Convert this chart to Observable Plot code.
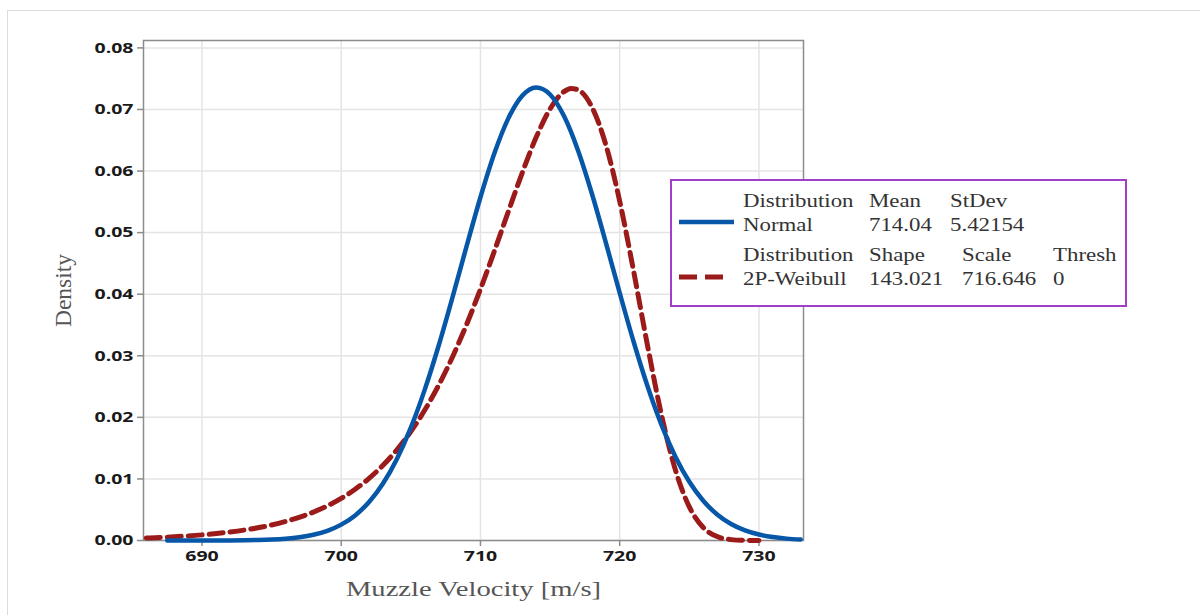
<!DOCTYPE html>
<html>
<head>
<meta charset="utf-8">
<script src="https://cdn.jsdelivr.net/npm/d3@7"></script>
<script src="https://cdn.jsdelivr.net/npm/@observablehq/plot@0.6"></script>
<style>
  html, body { margin: 0; padding: 0; background: #fff; overflow: hidden; }
  #wrap { position: relative; width: 1200px; height: 615px; }
  #outer { position: absolute; left: 7px; top: 10px; width: 1210px; height: 620px; border: 1.5px solid #dcdcdc; box-sizing: border-box; }
  #chart { position: absolute; left: 0; top: 0; }
  #legend { position: absolute; left: 670px; top: 179px; width: 457px; height: 128px; border: 2px solid #a040c8; box-sizing: border-box; background: #fff; font-family: "Liberation Serif", "DejaVu Serif", serif; font-size: 18px; color: #333; }
  #legend span { position: absolute; white-space: nowrap; line-height: 1; transform-origin: 0 0; transform: scaleX(1.27); }
  #legend svg { position: absolute; left: 0; top: 0; }
</style>
</head>
<body>
<div id="wrap">
  <div id="outer"></div>
  <div id="chart"></div>
  <div id="legend"></div>
</div>
<script>
// ---- data ----
const xTicks = [690, 700, 710, 720, 730];
const yTicks = [0, 0.01, 0.02, 0.03, 0.04, 0.05, 0.06, 0.07, 0.08];
const xLabel = "Muzzle Velocity [m/s]";
const yLabel = "Density";

const normalX = [687.5, 688, 690, 692, 694, 695, 696, 697, 698, 699, 700, 701, 702, 703, 704, 705, 706, 707, 708, 709, 710, 711, 712, 713, 714, 715, 716, 717, 718, 719, 720, 721, 722, 723, 724, 725, 726, 727, 728, 729, 730, 731, 732, 733];
const normalY = [0, 0.000001, 0.000004, 0.000019, 0.000079, 0.000154, 0.00029, 0.000527, 0.000924, 0.001569, 0.002573, 0.004079, 0.006249, 0.009254, 0.013247, 0.018327, 0.024502, 0.031666, 0.039557, 0.047765, 0.055742, 0.062876, 0.068551, 0.072239, 0.07358, 0.072436, 0.068925, 0.063391, 0.056352, 0.04842, 0.040208, 0.032277, 0.025041, 0.018778, 0.013611, 0.009535, 0.006456, 0.004225, 0.002673, 0.001635, 0.000966, 0.000552, 0.000305, 0.000163];

const weibullX = [686, 688, 690, 692, 694, 696, 698, 699, 700, 701, 702, 703, 704, 705, 706, 707, 708, 709, 710, 711, 712, 713, 714, 715, 716, 716.5, 717, 718, 719, 720, 721, 722, 723, 724, 725, 726, 727, 728, 729, 730];
const weibullY = [0.000402, 0.000607, 0.000915, 0.001376, 0.002066, 0.003093, 0.004614, 0.005624, 0.006845, 0.00832, 0.01009, 0.012207, 0.014722, 0.017693, 0.021179, 0.02522, 0.029852, 0.035064, 0.040819, 0.047004, 0.053411, 0.059714, 0.065474, 0.07009, 0.072903, 0.073406, 0.073193, 0.070412, 0.064286, 0.055106, 0.043739, 0.031628, 0.020402, 0.011471, 0.005448, 0.002112, 0.00064, 0.000143, 0.000022, 0];

const legendHeader1 = ["Distribution", "Mean", "StDev"];
const legendRow1 = ["Normal", "714.04", "5.42154"];
const legendHeader2 = ["Distribution", "Shape", "Scale", "Thresh"];
const legendRow2 = ["2P-Weibull", "143.021", "716.646", "0"];

const normalColor = "#0757a8";
const weibullColor = "#9b1a1a";

// ---- build chart ----
const normal = normalX.map((x, i) => ({x, y: normalY[i]}));
const weibull = weibullX.map((x, i) => ({x, y: weibullY[i]}));

const chart = Plot.plot({
  width: 1200,
  height: 615,
  marginLeft: 143,
  marginRight: 397,
  marginTop: 40,
  marginBottom: 75,
  style: { fontFamily: "'Open Sans', 'DejaVu Sans', sans-serif", fontSize: "15px", background: "transparent" },
  x: { domain: [685.8, 733.2] },
  y: { domain: [0, 0.0812] },
  marks: [
    Plot.gridX(xTicks, { stroke: "#e4e4e4", strokeOpacity: 1, strokeWidth: 1.5 }),
    Plot.gridY(yTicks, { stroke: "#e4e4e4", strokeOpacity: 1, strokeWidth: 1.5 }),
    Plot.axisX(xTicks, { tickSize: 6, tickPadding: 4, tickFormat: "d", label: xLabel, labelAnchor: "center", labelOffset: 55, labelArrow: "none" }),
    Plot.axisY(yTicks, { tickSize: 6, tickPadding: 4, tickFormat: d3.format(".2f"), label: yLabel, labelAnchor: "center", labelOffset: 90, labelArrow: "none" }),
    Plot.frame({ stroke: "#8c8c8c", strokeWidth: 1.5 }),
    Plot.line(weibull, { x: "x", y: "y", stroke: weibullColor, strokeWidth: 5, strokeDasharray: "14,7", curve: "monotone-x" }),
    Plot.line(normal, { x: "x", y: "y", stroke: normalColor, strokeWidth: 4.5, curve: "monotone-x" })
  ]
});
document.getElementById("chart").appendChild(chart);

// style axes
const svg = d3.select(chart);
svg.selectAll('g[aria-label="x-axis tick"], g[aria-label="y-axis tick"]').attr("stroke", "#8c8c8c").attr("stroke-width", 1.5);
svg.selectAll('g[aria-label="x-axis tick label"], g[aria-label="y-axis tick label"]')
  .attr("fill", "#1a1a1a").attr("font-weight", 700).attr("font-size", 15);
svg.selectAll('g[aria-label="x-axis label"], g[aria-label="y-axis label"]')
  .attr("fill", "#555").attr("font-family", "'Liberation Serif', 'DejaVu Serif', serif").attr("font-size", 22).attr("font-weight", 400);
svg.selectAll('g[aria-label="y-axis label"]').attr("font-size", 24);
svg.selectAll('g[aria-label="x-axis label"] text, g[aria-label="y-axis label"] text')
  .attr("font-family", null).attr("font-size", null);

// horizontal stretch of text to match the reference's wide lettering
function stretch(sel, factor) {
  sel.each(function() {
    const w = this.getComputedTextLength();
    this.setAttribute("textLength", (w * factor).toFixed(1));
    this.setAttribute("lengthAdjust", "spacingAndGlyphs");
  });
}
stretch(svg.selectAll('g[aria-label="x-axis tick label"] text, g[aria-label="y-axis tick label"] text'), 1.3);
stretch(svg.selectAll('g[aria-label="x-axis label"] text'), 1.3);
stretch(svg.selectAll('g[aria-label="y-axis label"] text'), 0.98);

// ---- legend ----
const legend = document.getElementById("legend");
const ns = "http://www.w3.org/2000/svg";
const lsvg = document.createElementNS(ns, "svg");
lsvg.setAttribute("width", 120);
lsvg.setAttribute("height", 124);
const l1 = document.createElementNS(ns, "line");
l1.setAttribute("x1", 7); l1.setAttribute("x2", 62); l1.setAttribute("y1", 41); l1.setAttribute("y2", 41);
l1.setAttribute("stroke", normalColor); l1.setAttribute("stroke-width", 4.5);
const l2 = document.createElementNS(ns, "line");
l2.setAttribute("x1", 7); l2.setAttribute("x2", 51); l2.setAttribute("y1", 96); l2.setAttribute("y2", 96);
l2.setAttribute("stroke", weibullColor); l2.setAttribute("stroke-width", 5); l2.setAttribute("stroke-dasharray", "18,8");
lsvg.appendChild(l1); lsvg.appendChild(l2);
legend.appendChild(lsvg);

function addRow(cells, cols, top) {
  cells.forEach((t, i) => {
    const s = document.createElement("span");
    s.textContent = t;
    s.style.left = cols[i] + "px";
    s.style.top = top + "px";
    legend.appendChild(s);
  });
}
addRow(legendHeader1, [71, 197, 278], 11);
addRow(legendRow1, [71, 197, 278], 35);
addRow(legendHeader2, [71, 197, 290, 381], 65);
addRow(legendRow2, [71, 197, 290, 381], 89);
</script>
</body>
</html>
